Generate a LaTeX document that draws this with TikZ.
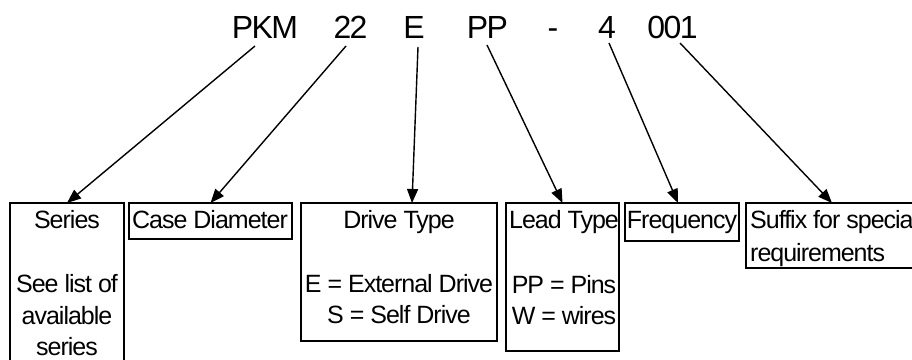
\documentclass[tikz,border=0pt]{standalone}
\usepackage{fontspec}
\setmainfont{Liberation Sans}
\newfontfamily\codefont[LetterSpace=-5]{Liberation Sans}
\newfontfamily\lblfont[LetterSpace=-4]{Liberation Sans}
\usetikzlibrary{arrows.meta}
\begin{document}
\begin{tikzpicture}[x=1pt,y=-1pt,
  code/.style={anchor=base,inner sep=0pt,font=\codefont\fontsize{32}{38}\selectfont},
  lbl/.style={anchor=base,inner sep=0pt,font=\lblfont\fontsize{25}{30}\selectfont},
  lbll/.style={anchor=base west,inner sep=0pt,font=\lblfont\fontsize{25}{30}\selectfont},
  box/.style={draw,line width=1.4pt,anchor=north west,inner sep=0pt,outer sep=0pt},
  arr/.style={line width=1.4pt,-{Triangle[length=14pt,width=11pt]}},
  ]
\useasboundingbox (0,0) rectangle (912,359);
\clip (0,0) rectangle (912,359);
% code letters
\node[code] (t1) at (265,38) {PKM};
\node[code] (t2) at (350.5,38) {22};
\node[code] (t3) at (414,38) {E};
\node[code] (t4) at (487.5,38) {PP};
\node[code] (t5) at (553,38) {-};
\node[code] (t6) at (607,38) {4};
\node[code] (t7) at (672.5,38) {001};
% boxes
\node[box,minimum width=114pt,minimum height=170pt] (b1) at (10,203) {};
\node[box,minimum width=163pt,minimum height=36pt] (b2) at (129,203) {};
\node[box,minimum width=196pt,minimum height=138pt] (b3) at (301,203) {};
\node[box,minimum width=113pt,minimum height=148pt] (b4) at (506,203) {};
\node[box,minimum width=114pt,minimum height=38pt] (b5) at (625,203) {};
\node[box,minimum width=200pt,minimum height=65pt] (b6) at (746,203) {};
% box texts
\node[lbl] (l1a) at (67,228) {Series};
\node[lbl] (l1b) at (67,292) {See list of};
\node[lbl] (l1c) at (67,324) {available};
\node[lbl] (l1d) at (67,355) {series};
\node[lbl] (l2) at (210,228) {Case Diameter};
\node[lbl] (l3a) at (399,228) {Drive Type};
\node[lbl] (l3b) at (399,292) {E = External Drive};
\node[lbl] (l3c) at (399,323) {S = Self Drive};
\node[lbl] (l4a) at (564,228) {Lead Type};
\node[lbl] (l4b) at (564,293) {PP = Pins};
\node[lbl] (l4c) at (564,324) {W = wires};
\node[lbl] (l5) at (682,228) {Frequency};
\node[lbll] (l6a) at (750,228) {Suffix for special};
\node[lbll] (l6b) at (750,261) {requirements};
% arrow start/end points
\coordinate (s1) at (255,46);
\coordinate (s2) at (346,46);
\coordinate (s3) at (418,47);
\coordinate (s4) at (487,45);
\coordinate (s5) at (609,43);
\coordinate (s6) at (680,43);
\coordinate (e3) at (412,203);
\coordinate (e5) at (678,203);
\coordinate (e6) at (832,203);
\draw[arr] (s1) -- (b1.north);
\draw[arr] (s2) -- (b2.north);
\draw[arr] (s3) -- (e3);
\draw[arr] (s4) -- (b4.north);
\draw[arr] (s5) -- (e5);
\draw[arr] (s6) -- (e6);
\end{tikzpicture}
\end{document}
